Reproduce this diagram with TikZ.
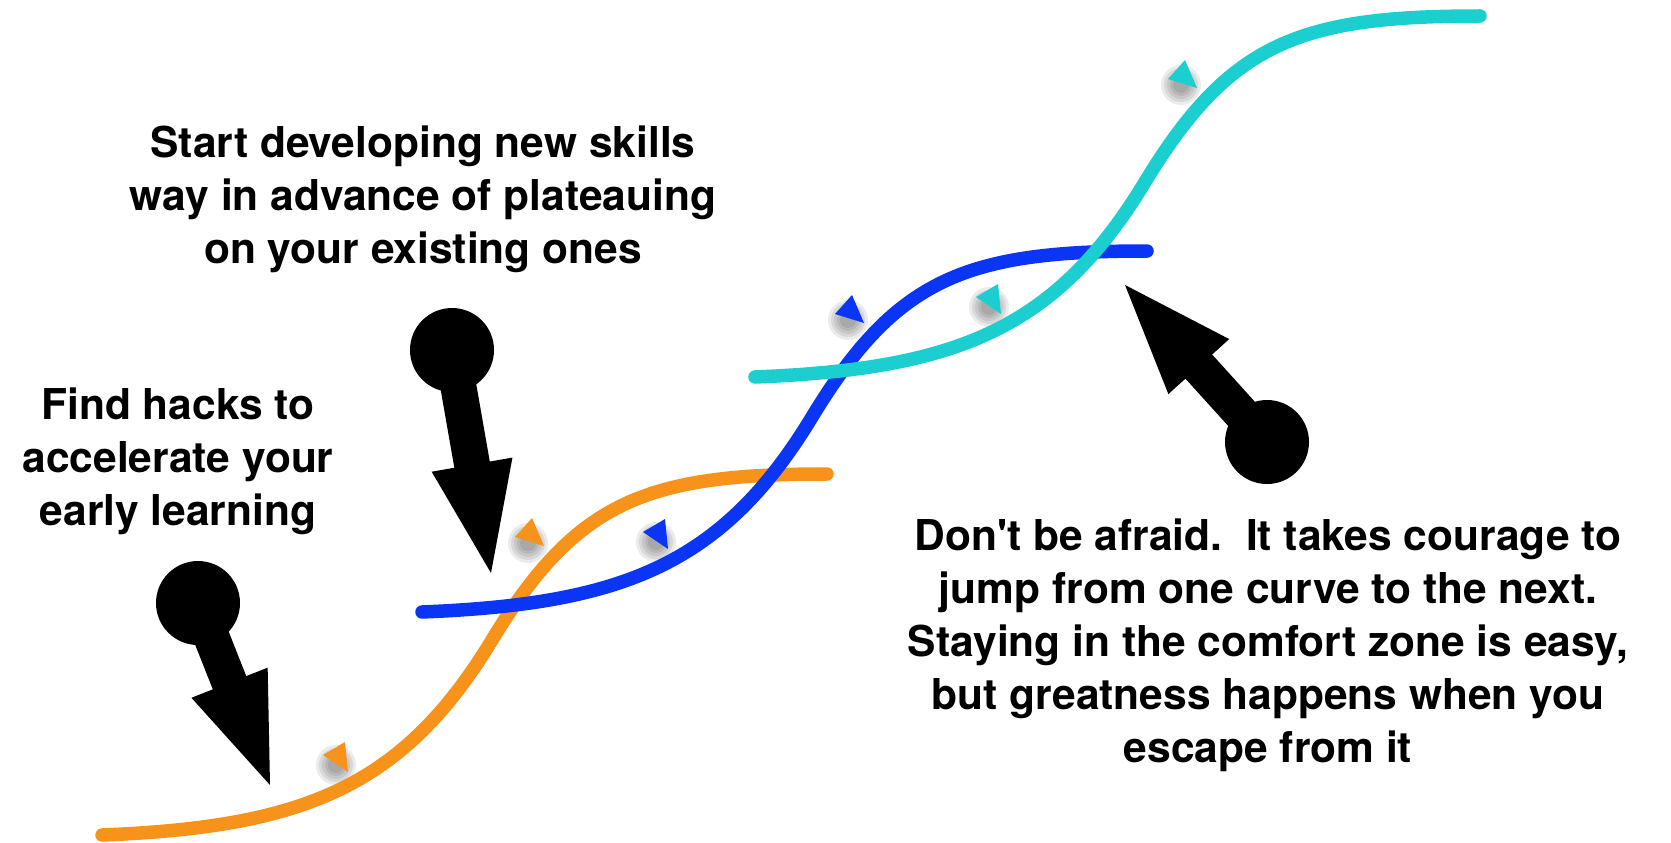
\documentclass[tikz,border=0pt]{standalone}
\usepackage{fontspec}
\newfontfamily\hv{TeX Gyre Heros}
\usetikzlibrary{calc}
\definecolor{corange}{HTML}{F7931A}
\definecolor{cblue}{HTML}{0A35F5}
\definecolor{ccyan}{HTML}{1BCFD0}
\tikzset{
  curve/.style={line width=13.5pt, line cap=round},
  shadowblob/.style={fill=black, opacity=0.08},
  txt/.style={font=\hv\bfseries\fontsize{42.5}{53}\selectfont, align=center, inner sep=0pt, text=black},
}
\newcommand\curvepath{(0,0) .. controls (200,-8) and (300,-46.5) .. (390,-195) .. controls (475,-335) and (545,-361) .. (725,-361)}
\newcommand\tshadow[1]{%
  \foreach \r in {20,17,14,11,8}{\fill[shadowblob] (#1) circle[radius=\r pt];}}
\newcommand\shadows[1]{%
  \begin{scope}[shift={#1}]
    \tshadow{234,-70}
    \tshadow{426,-292}
  \end{scope}}
\newcommand\scurve[2]{%
  \begin{scope}[shift={#2}]
    \draw[curve, #1] \curvepath;
    \fill[#1] (221,-80) -- (243,-93) -- (246,-63) -- cycle;
    \fill[#1] (413,-298) -- (430,-317) -- (442,-289) -- cycle;
  \end{scope}}
\newcommand\pinarrow[3]{%
  \coordinate (#1c) at (#2);
  \coordinate (#1t) at (#3);
  \coordinate (#1b) at ($(#1t)!110pt!(#1c)$);
  \coordinate (#1s) at ($(#1t)!100pt!(#1c)$);
  \fill (#1c) circle[radius=42pt];
  \draw[line width=36pt] (#1c) -- (#1s);
  \fill (#1t) -- ($(#1b)!41pt!90:(#1t)$) -- ($(#1b)!41pt!-90:(#1t)$) -- cycle;
}
\begin{document}
\begin{tikzpicture}[x=1pt, y=-1pt]
  \useasboundingbox[fill=white] (0,0) rectangle (1671,843);
  \shadows{(102,835)}
  \shadows{(422,612)}
  \shadows{(755,377)}
  \scurve{corange}{(102,835)}
  \scurve{cblue}{(422,612)}
  \scurve{ccyan}{(755,377)}
  \pinarrow{pa}{198,603}{270,785}
  \pinarrow{pb}{452,350}{491,573}
  \pinarrow{pc}{1267,442}{1125,285}
  \node[txt] (t1) at (423,199) {Start developing new skills\\way in advance of plateauing\\on your existing ones};
  \node[txt] (t2) at (178,461) {Find hacks to\\accelerate your\\early learning};
  \node[txt] (t3) at (1268,645) {Don't be afraid.~~It takes courage to\\jump from one curve to the next.\\Staying in the comfort zone is easy,\\but greatness happens when you\\escape from it};
\end{tikzpicture}
\end{document}
